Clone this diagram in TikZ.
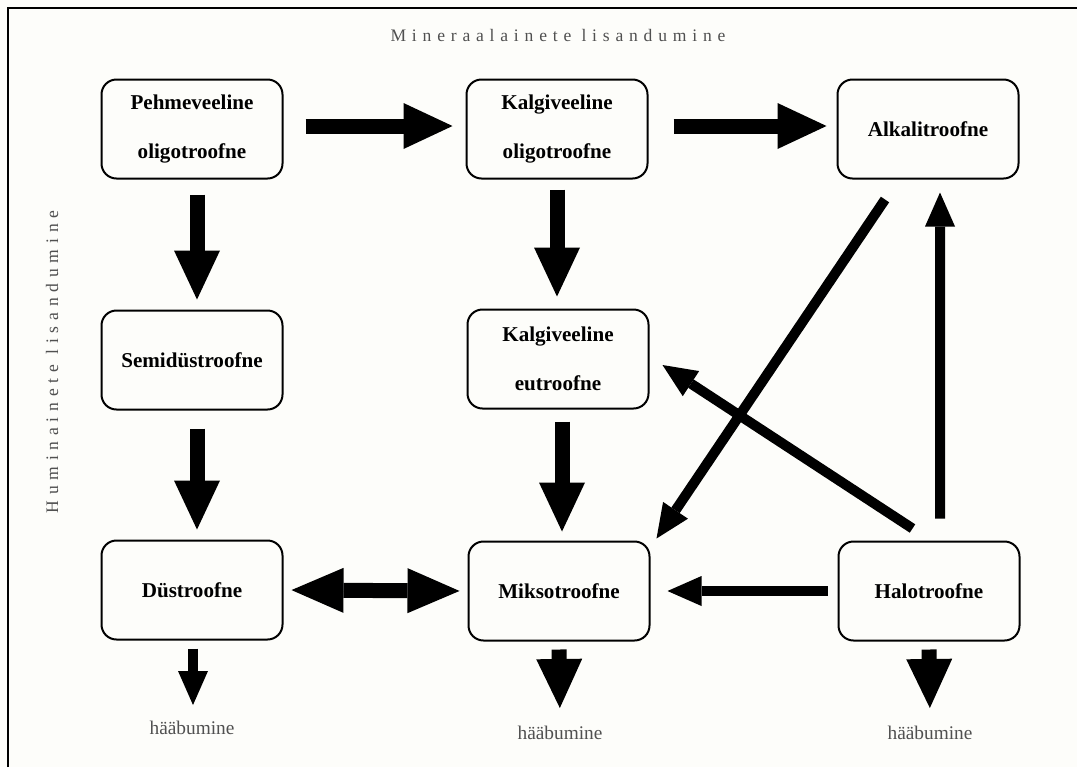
\documentclass[tikz,border=0pt]{standalone}
\usepackage{fontspec}
\setmainfont{Liberation Serif}
\usetikzlibrary{arrows.meta,positioning,calc}
\definecolor{paper}{RGB}{253,253,250}
\definecolor{titlegray}{RGB}{80,80,80}

\begin{document}
\begin{tikzpicture}[x=0.2mm, y=-0.2mm,
    trophbox/.style={rectangle, draw, line width=0.4mm, rounded corners=3mm,
        minimum width=36.2mm, minimum height=19.8mm, align=center,
        font=\fontsize{12}{28}\selectfont\bfseries},
    fatarrow/.style={line width=3mm, -{Triangle[width=9.2mm,length=9.8mm,line width=0pt]}},
    thinarrow/.style={line width=2mm, -{Triangle[width=6mm,length=6.8mm,line width=0pt]}},
    sidelabel/.style={text=titlegray, font=\fontsize{10}{12}\selectfont\addfontfeature{LetterSpace=33}},
    endlabel/.style={text=titlegray, font=\fontsize{11}{13}\selectfont}
]
\fill[paper] (0,0) rectangle (1077,767);
\useasboundingbox (0,0) rectangle (1077,767);
\draw[line width=0.5mm] (8,767) -- (8,8) -- (1077,8);

% boxes
\node[trophbox] (peh) at (192,129) {Pehmeveeline\\oligotroofne};
\node[trophbox] (kalo) at (557,129) {Kalgiveeline\\oligotroofne};
\node[trophbox] (alk) at (928,129) {Alkalitroofne};
\node[trophbox] (semi) at (192,360) {Semidüstroofne};
\node[trophbox] (kaleu) at (558,359) {Kalgiveeline\\eutroofne};
\node[trophbox] (dus) at (192,590) {Düstroofne};
\node[trophbox] (mikso) at (559,591) {Miksotroofne};
\node[trophbox] (halo) at (929,591) {Halotroofne};

% axis texts
\node[sidelabel] (minlab) at (558,35) {Mineraalainete lisandumine};
\node[sidelabel, rotate=90] (humlab) at (52,362) {Huminainete lisandumine};

% hääbumine
\node[endlabel] (hdus) at (192,728) {hääbumine};
\node[endlabel] (hmik) at (560,733) {hääbumine};
\node[endlabel] (hhal) at (930,733) {hääbumine};

% arrows
\draw[fatarrow, shorten <=4.4mm, shorten >=2.6mm] ([yshift=0.6mm]peh.east) -- ([yshift=0.6mm]kalo.west);
\draw[fatarrow, shorten <=5mm, shorten >=2mm] ([yshift=0.6mm]kalo.east) -- ([yshift=0.6mm]alk.west);
\draw[fatarrow, shorten <=3mm, shorten >=2mm] ([xshift=1mm]peh.south) -- ([xshift=1mm]semi.north);
\draw[fatarrow, shorten <=2mm, shorten >=2.4mm] (kalo.south) -- (kalo.south |- kaleu.north);
\draw[fatarrow, shorten <=3.6mm, shorten >=2mm] ([xshift=1mm]semi.south) -- ([xshift=1mm]dus.north);
\draw[fatarrow, shorten <=2.4mm, shorten >=1.8mm] ([xshift=0.8mm]kaleu.south) -- ([xshift=0.6mm]mikso.north);
\draw[line width=3mm, {Triangle[width=9mm,length=10.4mm,line width=0pt]}-{Triangle[width=9mm,length=10.4mm,line width=0pt]},
      shorten <=1.6mm, shorten >=1.6mm] (dus.east) -- (mikso.west);
\draw[thinarrow, shorten <=2mm, shorten >=3.4mm] (halo.west) -- (mikso.east);
\draw[thinarrow, shorten <=4.4mm, shorten >=2.6mm] ([xshift=2.2mm]halo.north) -- ([xshift=2.4mm]alk.south);
\draw[thinarrow] ($(alk.south)+(-43,20)$) -- ($(mikso.north east)+(6,-2)$);
\draw[thinarrow] ($(halo.north west)+(75,-12)$) -- ($(kaleu.east)+(13,6)$);
\draw[thinarrow, shorten <=1.6mm, shorten >=2mm] ([xshift=0.2mm]dus.south) -- ([xshift=0.2mm]hdus.north);
\draw[fatarrow, shorten <=1.6mm, shorten >=2.4mm] (mikso.south) -- (hmik.north);
\draw[fatarrow, shorten <=1.6mm, shorten >=2.4mm] (halo.south) -- (hhal.north);
\end{tikzpicture}
\end{document}
